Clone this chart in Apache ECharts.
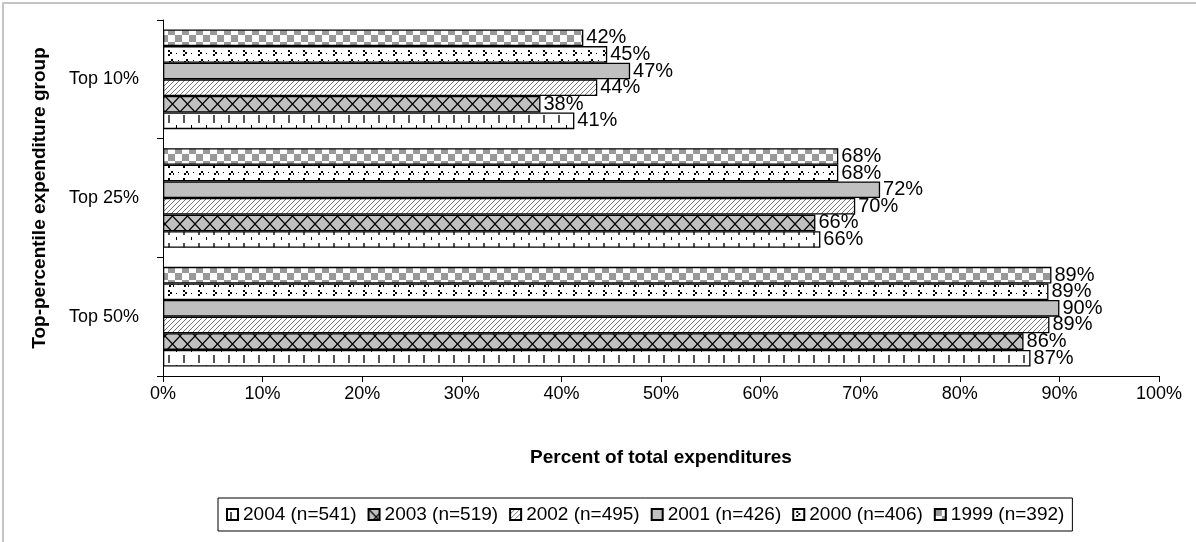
<!DOCTYPE html>
<html>
<head>
<meta charset="utf-8">
<script src="https://cdn.jsdelivr.net/npm/echarts@6/dist/echarts.min.js"></script>
<style>
  html, body { margin: 0; padding: 0; background: #fff; }
  #container { width: 1196px; height: 542px; }
</style>
</head>
<body>
<div id="container"></div>
<script>
var categories = ['Top 50%', 'Top 25%', 'Top 10%'];
var seriesNames = ['2004 (n=541)', '2003 (n=519)', '2002 (n=495)', '2001 (n=426)', '2000 (n=406)', '1999 (n=392)'];
var v2004 = [87.1, 66.0, 41.3];
var v2003 = [86.4, 65.5, 37.9];
var v2002 = [89.0, 69.5, 43.6];
var v2001 = [90.0, 72.0, 46.9];
var v2000 = [88.9, 67.8, 44.6];
var v1999 = [89.2, 67.8, 42.2];
var xMin = 0, xMax = 100, xStep = 10;

// small canvas tiles used as bar fills
function tile(w, h, draw) {
    var c = document.createElement('canvas');
    c.width = w; c.height = h;
    var ctx = c.getContext('2d');
    draw(ctx);
    return { image: c, repeat: 'repeat' };
}

var fill2004 = tile(15, 16, function (g) {
    g.fillStyle = '#fff'; g.fillRect(0, 0, 15, 16);
    g.fillStyle = '#555'; g.fillRect(3, 3, 2, 8);
    g.fillStyle = '#000'; g.fillRect(11, 13, 1, 3);
});
var fill2003 = tile(15, 16, function (g) {
    g.fillStyle = '#c0c0c0'; g.fillRect(0, 0, 15, 16);
    g.strokeStyle = '#000'; g.lineWidth = 1.2;
    g.beginPath();
    g.moveTo(0, 0); g.lineTo(15, 16);
    g.moveTo(15, 0); g.lineTo(0, 16);
    g.stroke();
});
var fill2002 = tile(5, 5, function (g) {
    g.fillStyle = '#fff'; g.fillRect(0, 0, 5, 5);
    g.fillStyle = '#777';
    for (var i = 0; i < 5; i++) g.fillRect(i, 4 - i, 1, 1);
});
var fill2001 = '#c0c0c0';
var fill2000 = tile(15, 16, function (g) {
    g.fillStyle = '#fff'; g.fillRect(0, 0, 15, 16);
    g.fillStyle = '#000';
    g.fillRect(3, 2, 2, 2); g.fillRect(5, 4, 2, 2); g.fillRect(3, 6, 2, 2);
    g.fillRect(11, 5, 1, 1);
    g.fillRect(6, 11, 2, 2); g.fillRect(4, 13, 2, 2); g.fillRect(8, 13, 1, 2);
    g.fillRect(13, 12, 1, 1);
});
var fill1999 = tile(14, 14, function (g) {
    g.fillStyle = '#fff'; g.fillRect(0, 0, 14, 14);
    g.fillStyle = '#999';
    g.fillRect(0, 0, 7, 7); g.fillRect(7, 7, 7, 7);
});

var values = [v2004, v2003, v2002, v2001, v2000, v1999];
var fills = [fill2004, fill2003, fill2002, fill2001, fill2000, fill1999];

var dom = document.getElementById('container');
var myChart = echarts.init(dom);
var font = 'Liberation Sans, Arial, sans-serif';

// 1999 first so it sits on top inside each group
var series = [];
for (var i = seriesNames.length - 1; i >= 0; i--) {
    series.push({
        name: seriesNames[i],
        type: 'bar',
        data: values[i],
        barGap: '0%',
        barCategoryGap: '16%',
        itemStyle: { color: fills[i], borderColor: '#000', borderWidth: 1.3 },
        label: {
            show: true,
            position: 'right',
            distance: 3,
            color: '#000',
            fontFamily: font,
            fontSize: 20,
            formatter: function (p) { return Math.round(p.value) + '%'; }
        }
    });
}

var option = {
    animation: false,
    backgroundColor: '#fff',
    grid: { left: 163, right: 37, top: 20, bottom: 166 },
    graphic: [{
        type: 'rect',
        shape: { x: 3, y: 3, width: 1300, height: 700 },
        style: { fill: 'none', stroke: '#c4c4c4', lineWidth: 2 },
        silent: true
    }],
    legend: {
        left: 218,
        top: 498,
        padding: [7, 8, 7, 8],
        borderColor: '#000',
        borderWidth: 1,
        itemWidth: 11,
        itemHeight: 11,
        itemGap: 11,
        icon: 'rect',
        textStyle: { color: '#000', fontFamily: font, fontSize: 19 },
        data: seriesNames
    },
    xAxis: {
        type: 'value',
        min: xMin,
        max: xMax,
        interval: xStep,
        name: 'Percent of total expenditures',
        nameLocation: 'middle',
        nameGap: 72,
        nameTextStyle: { color: '#000', fontFamily: font, fontSize: 19, fontWeight: 'bold' },
        axisLine: { show: true, lineStyle: { color: '#000', width: 1 } },
        axisTick: { show: true, length: 6, lineStyle: { color: '#000' } },
        axisLabel: { color: '#000', fontFamily: font, fontSize: 18, margin: 9, formatter: '{value}%' },
        splitLine: { show: false }
    },
    yAxis: {
        type: 'category',
        data: categories,
        name: 'Top-percentile expenditure group',
        nameLocation: 'middle',
        nameGap: 114,
        nameTextStyle: { color: '#000', fontFamily: font, fontSize: 19, fontWeight: 'bold' },
        axisLine: { show: true, lineStyle: { color: '#000', width: 1 } },
        axisTick: { show: true, length: 6, lineStyle: { color: '#000' } },
        axisLabel: { color: '#000', fontFamily: font, fontSize: 18, margin: 24 }
    },
    series: series
};

if (option && typeof option === 'object') {
    myChart.setOption(option, true);
}
</script>
</body>
</html>
